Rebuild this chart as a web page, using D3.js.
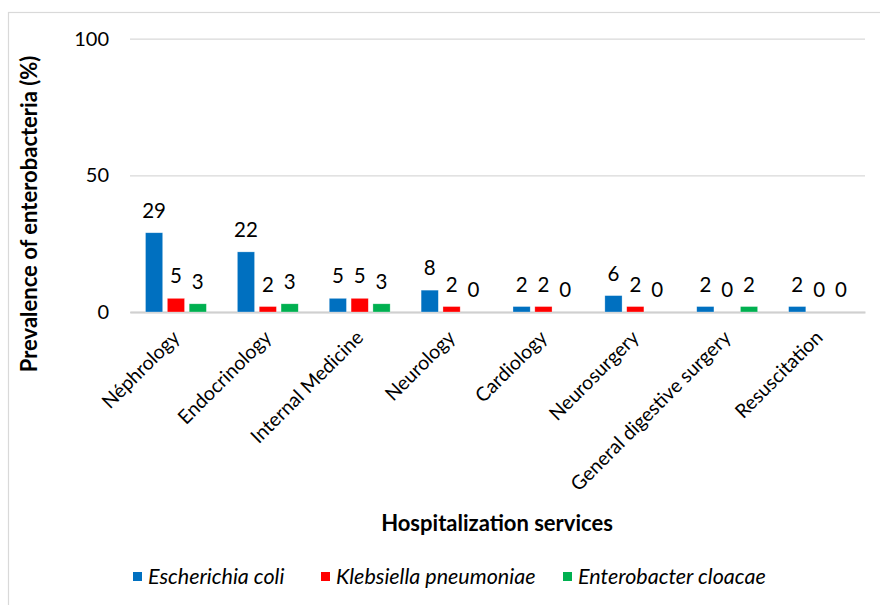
<!DOCTYPE html>
<html>
<head>
<meta charset="utf-8">
<script src="https://cdn.jsdelivr.net/npm/d3@7"></script>
<style>
  html, body { margin: 0; padding: 0; background: #ffffff; }
  svg { display: block; font-family: Lato, "Noto Sans", sans-serif; }
</style>
</head>
<body>
<svg id="chart" width="880" height="605"></svg>
<script>
// Hospitalization services (x categories)
const services = ["Néphrology", "Endocrinology", "Internal Medicine", "Neurology",
                  "Cardiology", "Neurosurgery", "General digestive surgery", "Resuscitation"];
// Prevalence (%) per species
const eColi = [29, 22, 5, 8, 2, 6, 2, 2];
const kPneumoniae = [5, 2, 5, 2, 2, 2, 0, 0];
const eCloacae = [3, 3, 3, 0, 0, 0, 2, 0];
const speciesNames = ["Escherichia coli", "Klebsiella pneumoniae", "Enterobacter cloacae"];
const speciesColors = ["#0070C0", "#FF0000", "#00B050"];
const yTicks = [0, 50, 100];

const seriesValues = [eColi, kPneumoniae, eCloacae];

const svg = d3.select("#chart");
const plot = { left: 130, right: 865, top: 38.7, bottom: 312 };

// Outer chart frame
svg.append("rect")
  .attr("x", 8.5).attr("y", 12.5)
  .attr("width", 1000).attr("height", 1000)
  .attr("fill", "none").attr("stroke", "#d9d9d9").attr("stroke-width", 1.2);

const x0 = d3.scaleBand().domain(services).range([plot.left, plot.right]).padding(0);
const y = d3.scaleLinear().domain([0, 100]).range([plot.bottom, plot.top]);
const barW = 16, barStep = 20.3;
const x1 = d3.scaleBand().domain(d3.range(3))
  .range([-barStep * 1.5, barStep * 1.5]).paddingInner((barStep - barW) / barStep).paddingOuter(0);

// Horizontal gridlines and y tick labels
const yAxis = d3.axisLeft(y).tickValues(yTicks).tickSize(-(plot.right - plot.left)).tickPadding(21);
const gy = svg.append("g").attr("transform", `translate(${plot.left},0)`).call(yAxis);
gy.select(".domain").remove();
gy.selectAll(".tick line").attr("stroke", "#d9d9d9").attr("stroke-width", 1.3);
gy.selectAll(".tick text")
  .attr("font-size", 20).attr("fill", "#000").attr("font-family", "Lato, sans-serif");

// Category axis (baseline)
const xAxis = d3.axisBottom(x0).tickSize(0).tickPadding(0);
const gx = svg.append("g").attr("transform", `translate(0,${plot.bottom})`).call(xAxis);
gx.select(".domain").attr("stroke", "#d0d0d0").attr("stroke-width", 2);
gx.selectAll(".tick text")
  .attr("font-size", 19.5).attr("fill", "#000").attr("font-family", "Lato, sans-serif")
  .attr("text-anchor", "end")
  .attr("transform", "translate(0,22) rotate(-45)")
  .attr("y", 0).attr("x", 0)
  .attr("dy", "0.35em");

// Bars and value labels
const groups = svg.append("g").selectAll("g.group")
  .data(services).join("g")
  .attr("class", "group")
  .attr("transform", d => `translate(${x0(d) + x0.bandwidth() / 2},0)`);

groups.each(function (svc, i) {
  const g = d3.select(this);
  seriesValues.forEach((vals, s) => {
    const v = vals[i];
    const bx = x1(s);
    const bw = x1.bandwidth();
    if (v > 0) {
      g.append("rect")
        .attr("x", bx).attr("width", bw)
        .attr("y", y(v)).attr("height", y(0) - y(v))
        .attr("fill", speciesColors[s])
        .attr("stroke", "#ffffff").attr("stroke-opacity", 0.5).attr("stroke-width", 0.6);
    }
    g.append("text")
      .attr("x", bx + bw / 2)
      .attr("y", y(v) - 15)
      .attr("text-anchor", "middle")
      .attr("font-size", 20.5)
      .attr("fill", "#000")
      .text(v);
  });
});

// Axis titles
svg.append("text")
  .attr("transform", `translate(37,214) rotate(-90)`)
  .attr("text-anchor", "middle")
  .attr("font-size", 22).attr("font-weight", "bold")
  .text("Prevalence of enterobacteria (%)");

svg.append("text")
  .attr("x", 497).attr("y", 531)
  .attr("text-anchor", "middle")
  .attr("font-size", 22).attr("font-weight", "bold")
  .text("Hospitalization services");

// Legend
const legendX = [133, 321, 563];
const legend = svg.append("g");
speciesNames.forEach((name, s) => {
  legend.append("rect")
    .attr("x", legendX[s]).attr("y", 572)
    .attr("width", 9).attr("height", 9)
    .attr("fill", speciesColors[s]);
  legend.append("text")
    .attr("x", legendX[s] + 15).attr("y", 584)
    .attr("font-size", 21.5).attr("font-style", "italic")
    .text(name);
});
</script>
</body>
</html>
